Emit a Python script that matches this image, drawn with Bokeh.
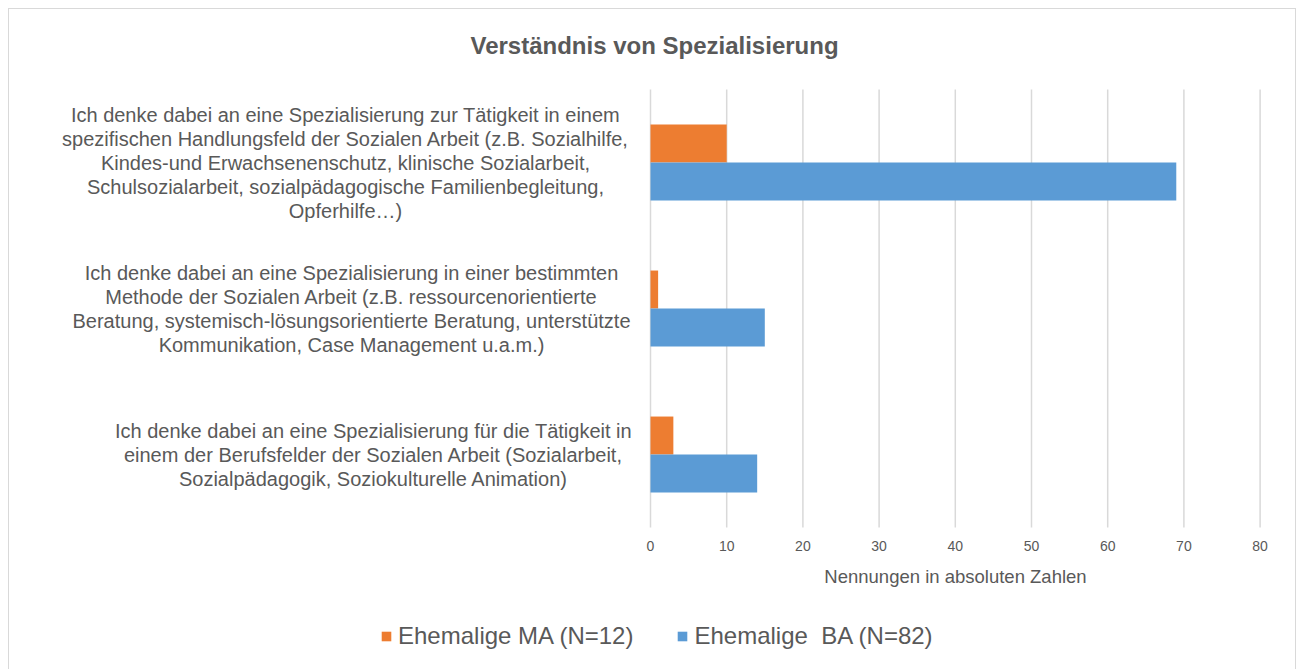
from bokeh.plotting import figure
from bokeh.models import Range1d, Label, Legend, LegendItem, FixedTicker
from bokeh.embed import file_html
from bokeh.resources import INLINE

# ---------------- data ----------------
title_text = "Verständnis von Spezialisierung"
axis_title = "Nennungen in absoluten Zahlen"
categories = [
    ["Ich denke dabei an eine Spezialisierung zur Tätigkeit in einem",
     "spezifischen Handlungsfeld der Sozialen Arbeit (z.B. Sozialhilfe,",
     "Kindes-und Erwachsenenschutz, klinische Sozialarbeit,",
     "Schulsozialarbeit, sozialpädagogische Familienbegleitung,",
     "Opferhilfe…)"],
    ["Ich denke dabei an eine Spezialisierung in einer bestimmten",
     "Methode der Sozialen Arbeit (z.B. ressourcenorientierte",
     "Beratung, systemisch-lösungsorientierte Beratung, unterstützte",
     "Kommunikation, Case Management u.a.m.)"],
    ["Ich denke dabei an eine Spezialisierung für die Tätigkeit in",
     "einem der Berufsfelder der Sozialen Arbeit (Sozialarbeit,",
     "Sozialpädagogik, Soziokulturelle Animation)"],
]
series_names = ["Ehemalige MA (N=12)", "Ehemalige  BA (N=82)"]
ma_values = [10, 1, 3]
ba_values = [69, 15, 14]
x_ticks = [0, 10, 20, 30, 40, 50, 60, 70, 80]

# ---------------- style / layout (pixels) ----------------
FONT = "Liberation Sans"
TEXT = "#595959"
GRID = "#D9D9D9"
ORANGE = "#ED7D31"
BLUE = "#5B9BD5"
W, H = 1288, 661                 # canvas (page offset 8px margin + 1px border)
X0_PX, PX_PER_X = 641.0, 7.62    # where value 0 sits, pixels per unit
Y_TOP_PX, CAT_PX = 80.0, 146.0   # top of category band, pixels per category
BAR_H = 0.26
LABEL_CENTER_PX = [336, 342, 364]  # horizontal centre of each label block
LINE_PX = 24
TITLE_PX = (645, 36)
LEGEND_PX = (371, 20)

n = len(categories)
x_lo = -X0_PX / PX_PER_X
x_hi = (W - X0_PX) / PX_PER_X
y_hi = n + Y_TOP_PX / CAT_PX
y_lo = n - (H - Y_TOP_PX) / CAT_PX

def px_to_x(px):
    return (px - X0_PX) / PX_PER_X

def px_to_y(py):
    return n - (py - Y_TOP_PX) / CAT_PX

p = figure(width=W, height=H, output_backend="svg", toolbar_location=None,
           x_range=Range1d(x_lo, x_hi), y_range=Range1d(y_lo, y_hi),
           min_border=0, min_border_left=0, min_border_right=0,
           min_border_top=0, min_border_bottom=0)
p.styles = {"margin-left": "8px", "margin-top": "8px",
            "border-left": "1px solid #D9D9D9", "border-top": "1px solid #D9D9D9",
            "border-right": "1px solid #D9D9D9"}
p.outline_line_color = None
p.background_fill_color = "white"
p.border_fill_color = "white"
p.grid.visible = False
p.yaxis.visible = False

# vertical gridlines over the category band
p.segment(x0=x_ticks, x1=x_ticks, y0=[0] * len(x_ticks), y1=[n] * len(x_ticks),
          line_color=GRID, line_width=1.5)

centers = [n - i - 0.5 for i in range(n)]
ma_y = [c + BAR_H / 2 for c in centers]
ba_y = [c - BAR_H / 2 for c in centers]
r_ma = p.hbar(y=ma_y, right=ma_values, left=0, height=BAR_H, fill_color=ORANGE, line_color=None)
r_ba = p.hbar(y=ba_y, right=ba_values, left=0, height=BAR_H, fill_color=BLUE, line_color=None)

# x axis drawn at value-axis baseline
xa = p.xaxis[0]
xa.fixed_location = 0
xa.bounds = (x_ticks[0], x_ticks[-1])
xa.ticker = FixedTicker(ticks=x_ticks)
xa.axis_line_color = None
xa.major_tick_line_color = None
xa.minor_tick_line_color = None
xa.major_tick_out = 0
xa.major_tick_in = 0
xa.major_label_standoff = 13
xa.major_label_text_font = FONT
xa.major_label_text_font_size = "14px"
xa.major_label_text_color = TEXT
xa.axis_label = axis_title
xa.axis_label_text_font = FONT
xa.axis_label_text_font_size = "18.5px"
xa.axis_label_text_font_style = "normal"
xa.axis_label_text_color = TEXT
xa.axis_label_standoff = 12

# category labels (each line centred, block right-aligned to the axis)
step = LINE_PX / CAT_PX
for lines, c, cx in zip(categories, centers, LABEL_CENTER_PX):
    k = len(lines)
    for j, line in enumerate(lines):
        y = c + ((k - 1) / 2 - j) * step
        p.add_layout(Label(x=px_to_x(cx), y=y, text=line,
                           text_align="center", text_baseline="middle",
                           text_font=FONT, text_font_size="20px", text_color=TEXT))

# title
p.add_layout(Label(x=px_to_x(TITLE_PX[0]), y=px_to_y(TITLE_PX[1]), text=title_text,
                   text_align="center", text_baseline="middle",
                   text_font=FONT, text_font_size="24px", text_font_style="bold",
                   text_color=TEXT))

legend = Legend(items=[LegendItem(label=series_names[0], renderers=[r_ma]),
                       LegendItem(label=series_names[1], renderers=[r_ba])],
                orientation="horizontal", location=LEGEND_PX,
                glyph_width=12, glyph_height=12, label_standoff=6, spacing=43,
                padding=0, margin=0, border_line_color=None, background_fill_alpha=0,
                label_text_font=FONT, label_text_font_size="24px", label_text_color=TEXT,
                label_height=28)
p.add_layout(legend, "center")

open("out.html", "w").write(file_html(p, INLINE))
